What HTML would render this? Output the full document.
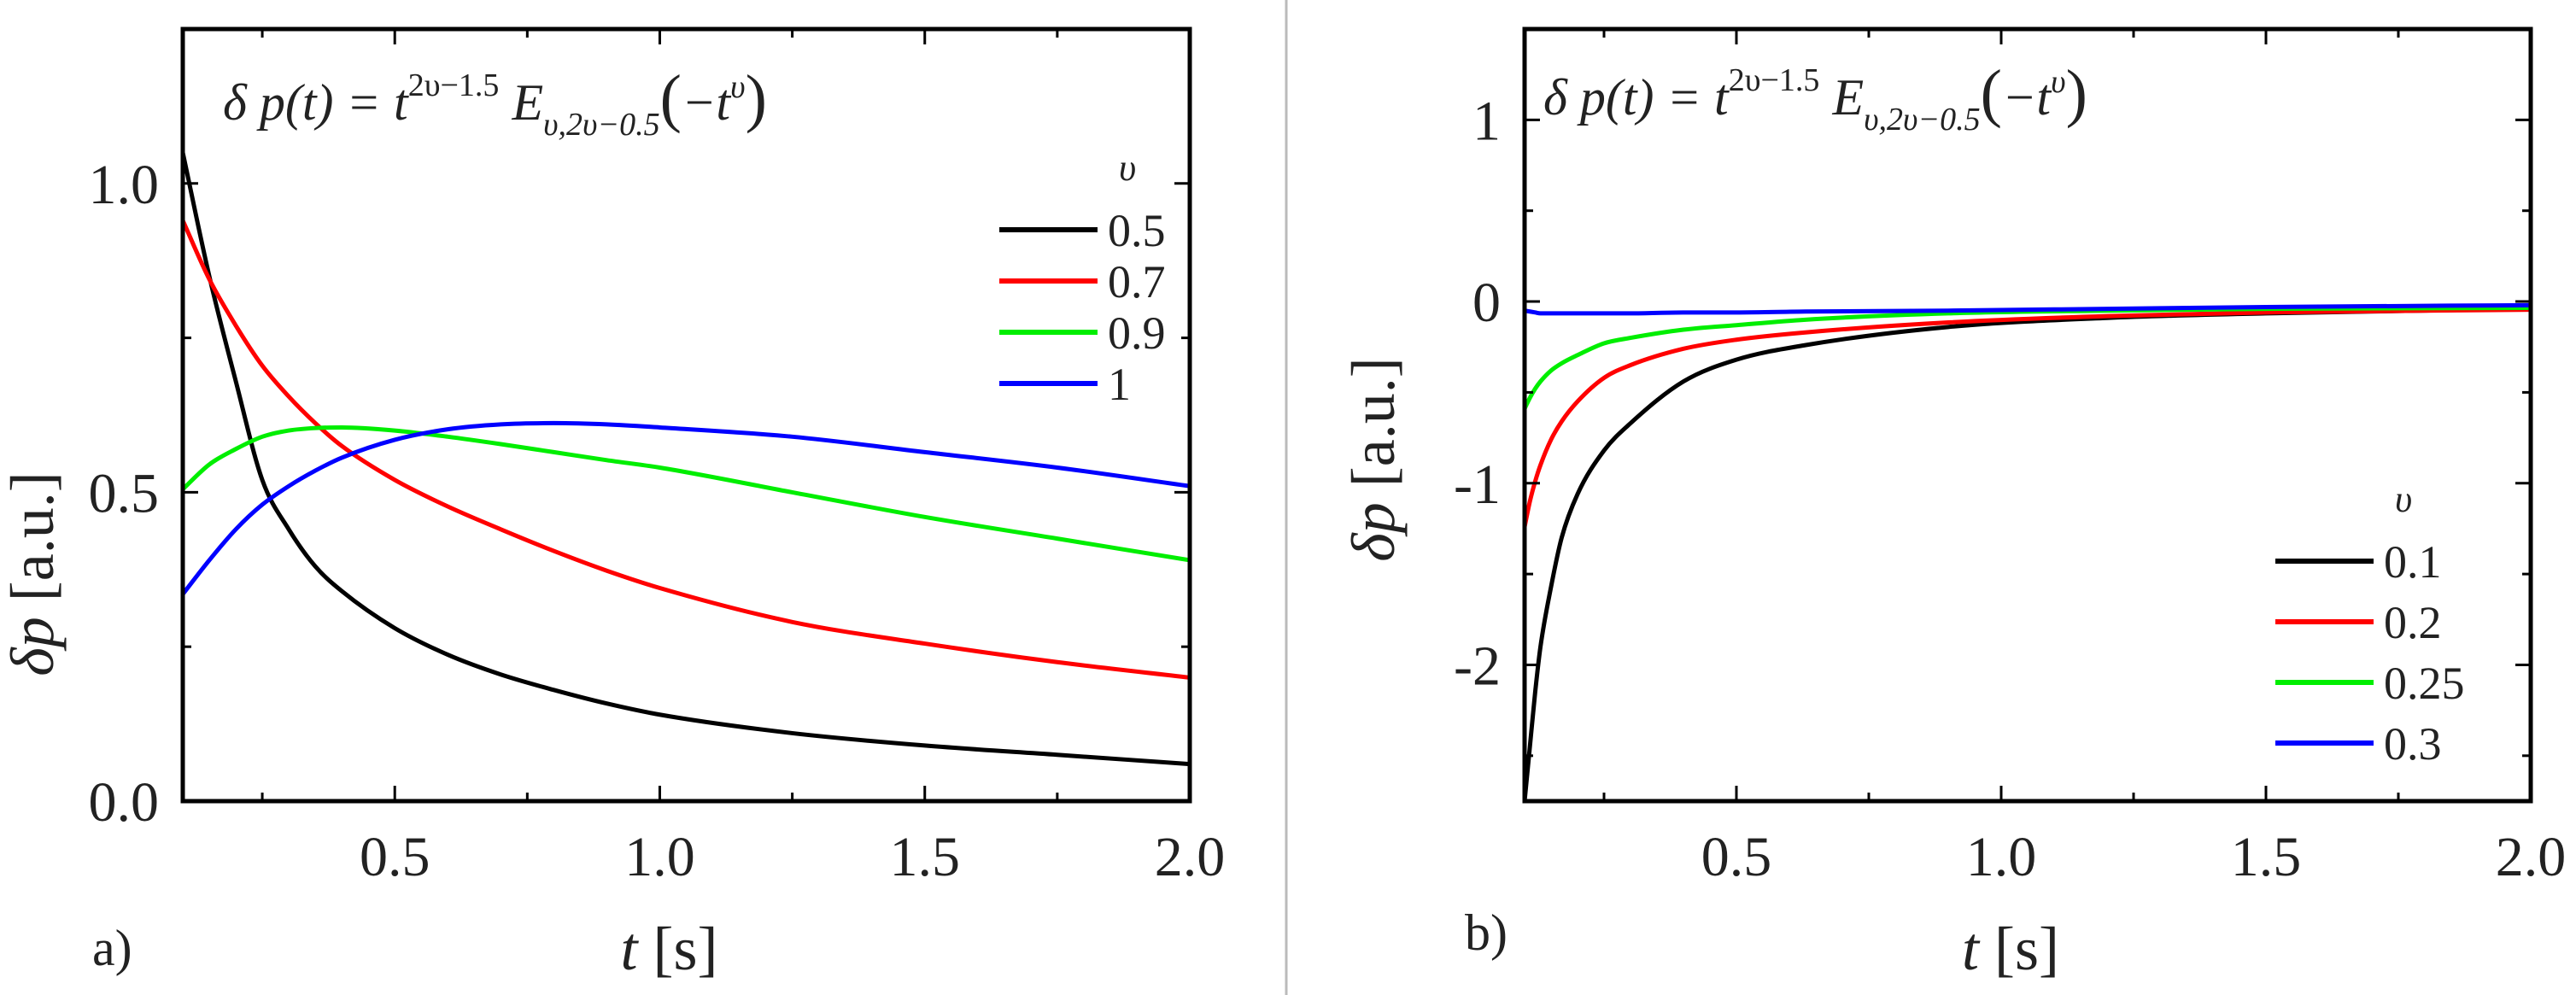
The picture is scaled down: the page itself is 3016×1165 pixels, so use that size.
<!DOCTYPE html>
<html><head><meta charset="utf-8"><style>
html,body{margin:0;padding:0;background:#fff;}
svg{display:block;font-family:"Liberation Serif",serif;}
</style></head><body>
<svg id="fig" width="3016" height="1165" viewBox="0 0 3016 1165">
<line x1="1506" y1="0" x2="1506" y2="1165" stroke="#bbb" stroke-width="3"/>
<g id="pa"></g>
<g id="pb"></g>
</svg>
<script>
// Panel a data
const tA = [0.1,0.15,0.2,0.25,0.3,0.35,0.4,0.5,0.6,0.7,0.8,0.9,1.0,1.25,1.5,1.75,2.0];
const a05 = [1.05,0.85,0.68,0.52,0.44,0.38,0.34,0.28,0.237,0.205,0.18,0.158,0.14,0.11,0.09,0.075,0.06];
const a07 = [0.94,0.845,0.77,0.705,0.655,0.612,0.575,0.52,0.477,0.44,0.405,0.373,0.345,0.29,0.255,0.225,0.20];
const a09 = [0.505,0.545,0.57,0.59,0.60,0.604,0.605,0.60,0.59,0.578,0.565,0.552,0.54,0.50,0.46,0.425,0.39];
const a10 = [0.335,0.39,0.44,0.48,0.51,0.535,0.556,0.585,0.602,0.61,0.612,0.61,0.605,0.59,0.565,0.54,0.51];
const legendA = ["0.5","0.7","0.9","1"];
const xTicks = ["0.5","1.0","1.5","2.0"];
const yTicksA = ["0.0","0.5","1.0"];
// Panel b data
const tB = [0.1,0.11,0.12,0.13,0.15,0.17,0.2,0.25,0.3,0.4,0.5,0.63,0.9,1.2,1.5,2.0];
const b01 = [-2.75,-2.45,-2.15,-1.9,-1.57,-1.3,-1.06,-0.82,-0.67,-0.44,-0.32,-0.24,-0.14,-0.09,-0.065,-0.04];
const b02 = [-1.24,-1.10,-0.99,-0.90,-0.76,-0.66,-0.55,-0.42,-0.35,-0.26,-0.21,-0.17,-0.115,-0.08,-0.06,-0.045];
const b025 = [-0.59,-0.53,-0.48,-0.44,-0.38,-0.34,-0.295,-0.23,-0.20,-0.155,-0.13,-0.10,-0.065,-0.05,-0.04,-0.035];
const b03 = [-0.05,-0.055,-0.06,-0.065,-0.065,-0.065,-0.065,-0.065,-0.065,-0.06,-0.06,-0.055,-0.05,-0.04,-0.03,-0.02];
const legendB = ["0.1","0.2","0.25","0.3"];
const yTicksB = ["-2","-1","0","1"];
const colors = ["#000","#ff0000","#00ee00","#0000ff"];
const NS="http://www.w3.org/2000/svg";
function mk(tag, attrs, parent){const e=document.createElementNS(NS,tag);for(const k in attrs)e.setAttribute(k,attrs[k]);parent.appendChild(e);return e;}
function pathFrom(xs,ys,sx,sy){
  const X=xs.map(sx),Y=ys.map(sy),n=X.length;
  const d=[],m=new Array(n);
  for(let i=0;i<n-1;i++)d.push((Y[i+1]-Y[i])/(X[i+1]-X[i]));
  m[0]=d[0];m[n-1]=d[n-2];
  for(let i=1;i<n-1;i++){m[i]=(d[i-1]*d[i]<=0)?0:(d[i-1]+d[i])/2;}
  for(let i=0;i<n-1;i++){
    if(d[i]===0){m[i]=0;m[i+1]=0;continue;}
    const a=m[i]/d[i],b=m[i+1]/d[i],s=a*a+b*b;
    if(s>9){const t=3/Math.sqrt(s);m[i]=t*a*d[i];m[i+1]=t*b*d[i];}
  }
  let p="M"+X[0]+","+Y[0];
  for(let i=0;i<n-1;i++){
    const h=(X[i+1]-X[i])/3;
    p+=" C"+(X[i]+h)+","+(Y[i]+m[i]*h)+" "+(X[i+1]-h)+","+(Y[i+1]-m[i+1]*h)+" "+X[i+1]+","+Y[i+1];
  }
  return p;
}
function panel(g,cfg){
  const {L,R,T,B,ymin,ymax,series,ts,yt,ymin2,leg,legX,legY,legStep,formX,formY,ytitleX,ytitleY,label,labelX,labelY,yMinorStep}=cfg;
  const sx=x=>L+(x-0.1)/(2.0-0.1)*(R-L);
  const sy=y=>B-(y-ymin)/(ymax-ymin)*(B-T);
  const clip=mk("clipPath",{id:"c"+label},g);
  mk("rect",{x:L,y:T,width:R-L,height:B-T},clip);
  series.forEach((s,i)=>{
    const p=mk("path",{d:pathFrom(ts,s,sx,sy),fill:"none",stroke:colors[i],"stroke-width":5,"clip-path":"url(#c"+label+")"},g);
    
    
  });
  const fr=mk("rect",{x:L,y:T,width:R-L,height:B-T,fill:"none",stroke:"#000","stroke-width":5},g);
  
  
  for(let v=0.25;v<=2.001;v+=0.25){
    const x=sx(v),len=(Math.abs(v*2-Math.round(v*2))<1e-6)?18:10;
    mk("line",{x1:x,y1:B,x2:x,y2:B-len,stroke:"#000","stroke-width":3},g);
    mk("line",{x1:x,y1:T,x2:x,y2:T+len,stroke:"#000","stroke-width":3},g);
  }
  xTicks.forEach(s=>{
    const t=mk("text",{x:sx(+s),y:1025,"text-anchor":"middle","font-size":66,fill:"#222"},g);
    t.textContent=s;
    
    
  });
  for(let v=ymin2;v<=ymax+1e-6;v+=yMinorStep){
    const y=sy(v);const major=yt.some(s=>Math.abs(+s-v)<1e-6);const len=major?18:10;
    mk("line",{x1:L,y1:y,x2:L+len,y2:y,stroke:"#000","stroke-width":3},g);
    mk("line",{x1:R,y1:y,x2:R-len,y2:y,stroke:"#000","stroke-width":3},g);
  }
  yt.forEach(s=>{
    const t=mk("text",{x:L-28,y:sy(+s)+23,"text-anchor":"end","font-size":66,fill:"#222"},g);
    t.textContent=s;
    
    
  });
  const xt=mk("text",{x:(L+R)/2-20,y:1135,"text-anchor":"middle","font-size":72,fill:"#222"},g);
  xt.innerHTML='<tspan font-style="italic">t</tspan> [s]';
  
  
  const ytl=mk("text",{x:ytitleX,y:ytitleY,"text-anchor":"middle","font-size":72,fill:"#222",transform:"rotate(-90 "+ytitleX+" "+ytitleY+")"},g);
  ytl.innerHTML='<tspan font-style="italic">δp</tspan> [a.u.]';
  
  
  const lb=mk("text",{x:labelX,y:labelY,"font-size":60,fill:"#222"},g);
  lb.textContent=label+")";
  
  
  const f=mk("text",{x:formX,y:formY,"font-size":60,fill:"#222","font-style":"italic"},g);
  f.innerHTML='δ p(t) = t<tspan dy="-28" font-size="38" font-style="normal">2υ−1.5</tspan><tspan dy="28"> E</tspan><tspan dy="18" font-size="38">υ,2υ−0.5</tspan><tspan dy="-18" font-size="76" font-style="normal">(</tspan>−t<tspan dy="-26" font-size="38">υ</tspan><tspan dy="26" font-size="76" font-style="normal">)</tspan>';
  
  
  const nu=mk("text",{x:legX+140,y:legY-58,"font-size":44,"font-style":"italic",fill:"#222"},g);
  nu.textContent="υ";
  
  
  leg.forEach((s,i)=>{
    const y=legY+i*legStep;
    const le=mk("g",{},g);
    
    
    mk("line",{x1:legX,y1:y,x2:legX+115,y2:y,stroke:colors[i],"stroke-width":6},le);
    const t=mk("text",{x:legX+127,y:y+19,"font-size":54,fill:"#222"},le);
    t.textContent=s;
  });
}
panel(document.getElementById("pa"),{L:214,R:1393,T:34,B:938,ymin:0,ymax:1.25,ymin2:0,yMinorStep:0.25,series:[a05,a07,a09,a10],ts:tA,yt:yTicksA,leg:legendA,legX:1170,legY:269,legStep:60,formX:261,formY:140,ytitleX:62,ytitleY:672,label:"a",labelX:108,labelY:1130});
panel(document.getElementById("pb"),{L:1785,R:2963,T:34,B:938,ymin:-2.75,ymax:1.5,ymin2:-2.5,yMinorStep:0.5,series:[b01,b02,b025,b03],ts:tB,yt:yTicksB,leg:legendB,legX:2664,legY:657,legStep:71,formX:1807,formY:134,ytitleX:1632,ytitleY:538,label:"b",labelX:1715,labelY:1112});
</script>
</body></html>
